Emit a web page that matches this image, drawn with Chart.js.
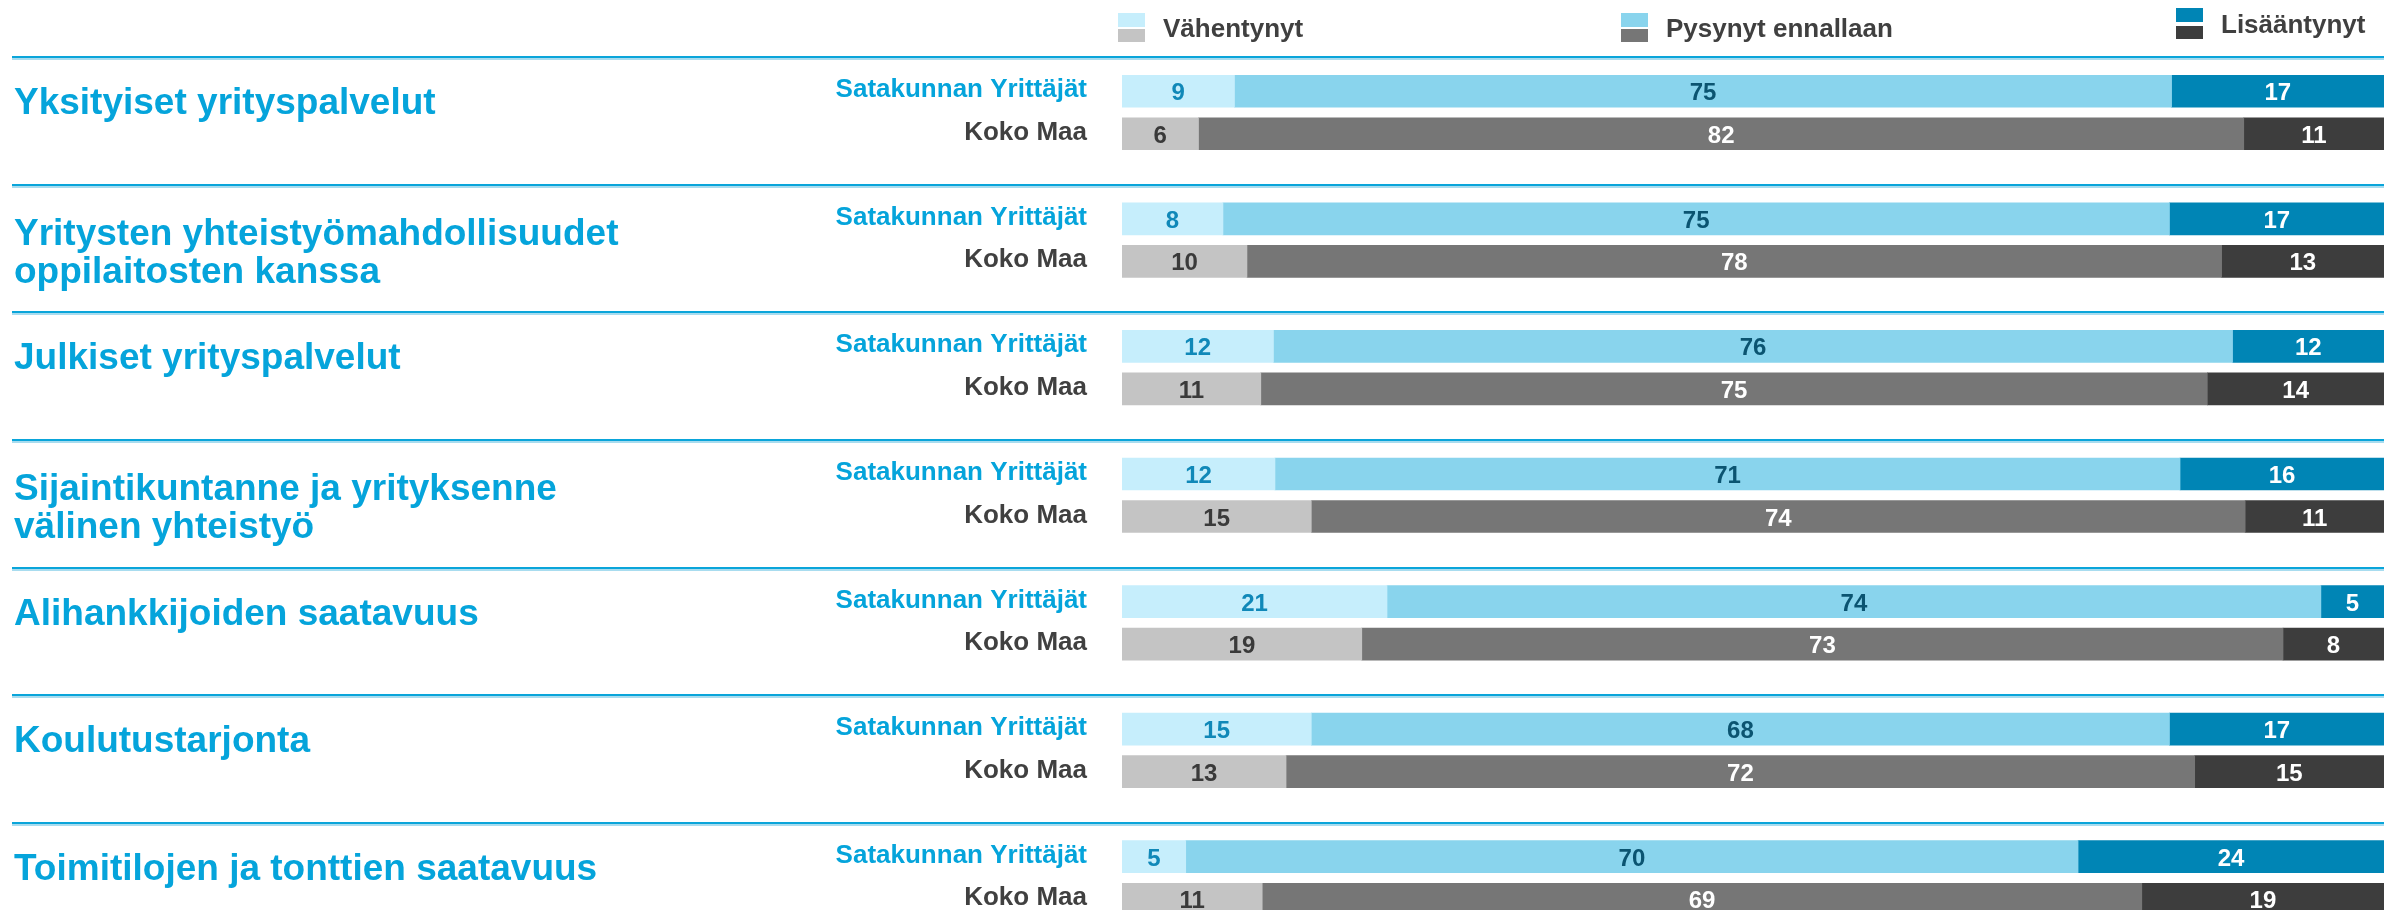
<!DOCTYPE html>
<html>
<head>
<meta charset="utf-8">
<script src="https://cdn.jsdelivr.net/npm/chart.js@4/dist/chart.umd.min.js"></script>
<style>
  html, body { margin: 0; padding: 0; background: #fff; overflow: hidden; }
  #wrap { width: 2397px; height: 910px; overflow: hidden; }
</style>
</head>
<body>
<div id="wrap"><canvas id="chart" width="2397" height="963"></canvas></div>
<script>
// aiheet (kaksi riviä = \n)
const categories = [
  "Yksityiset yrityspalvelut",
  "Yritysten yhteistyömahdollisuudet\noppilaitosten kanssa",
  "Julkiset yrityspalvelut",
  "Sijaintikuntanne ja yrityksenne\nvälinen yhteistyö",
  "Alihankkijoiden saatavuus",
  "Koulutustarjonta",
  "Toimitilojen ja tonttien saatavuus"
];
const groups = ["Satakunnan Yrittäjät", "Koko Maa"];
const seriesNames = ["Vähentynyt", "Pysynyt ennallaan", "Lisääntynyt"];

const satDecreased = [9, 8, 12, 12, 21, 15, 5];
const satSame      = [75, 75, 76, 71, 74, 68, 70];
const satIncreased = [17, 17, 12, 16, 5, 17, 24];
const maaDecreased = [6, 10, 11, 15, 19, 13, 11];
const maaSame      = [82, 78, 75, 74, 73, 72, 69];
const maaIncreased = [11, 13, 14, 11, 8, 15, 19];

const FONT = '"Liberation Sans", Arial, sans-serif';
const BLUE = "#05a4db";
const satColors = ["#c6eefc", "#89d4ed", "#0085b5"];
const maaColors = ["#c4c4c4", "#767676", "#3d3d3d"];
const satText = ["#1088b8", "#0b5471", "#ffffff"];
const maaText = ["#3a3a3a", "#ffffff", "#ffffff"];

const sat = [satDecreased, satSame, satIncreased];
const maa = [maaDecreased, maaSame, maaIncreased];

// 3 paikkaa per aihe: Satakunta, Koko maa, väli
const labels = [];
categories.forEach(() => { labels.push(groups[0], groups[1], ""); });

const raw = seriesNames.map((_, s) => {
  const out = [];
  categories.forEach((c, i) => { out.push(sat[s][i], maa[s][i], null); });
  return out;
});
const rowSum = (src, i) => src.reduce((a, arr) => a + arr[i], 0);
const datasets = seriesNames.map((name, s) => ({
  label: name,
  data: raw[s].map((v, k) => {
    if (v === null) return null;
    const i = Math.floor(k / 3);
    const total = k % 3 === 0 ? rowSum(sat, i) : rowSum(maa, i);
    return v / total * 100;
  }),
  backgroundColor: (ctx) => (ctx.dataIndex % 3 === 0 ? satColors : maaColors)[s],
  borderWidth: 0,
  barThickness: 32
}));

const decor = {
  id: "decor",
  beforeDatasetsDraw(chart) {
    const { ctx, scales: { y } } = chart;
    ctx.save();
    categories.forEach((cat, i) => {
      const c = Math.round(y.getPixelForValue(i * 3));
      const top = c - 35;
      ctx.fillStyle = "#0aa5da";
      ctx.fillRect(12, top, 2372, 2);
      ctx.fillStyle = "#a8dcef";
      ctx.fillRect(12, top + 2, 2372, 2);
      // otsikko
      const lines = cat.split("\n");
      ctx.fillStyle = BLUE;
      ctx.font = `bold 37px ${FONT}`;
      ctx.textAlign = "left";
      ctx.textBaseline = "alphabetic";
      const off = lines.length > 1 ? 26 : 23;
      lines.forEach((ln, j) => ctx.fillText(ln, 14, c + off + j * 38));
      // rivien nimet
      ctx.font = `bold 26px ${FONT}`;
      ctx.textAlign = "right";
      ctx.fillStyle = BLUE;
      ctx.fillText(groups[0], 1087, c + 6);
      ctx.fillStyle = "#404040";
      ctx.fillText(groups[1], 1087, Math.round(y.getPixelForValue(i * 3 + 1)) + 6);
    });
    // selite
    const leg = [
      { sq: 1118, tx: 1163, t1: 13, t2: 29, base: 37 },
      { sq: 1621, tx: 1666, t1: 13, t2: 29, base: 37 },
      { sq: 2176, tx: 2221, t1: 8, t2: 26, base: 33 }
    ];
    ctx.font = `bold 26px ${FONT}`;
    ctx.textAlign = "left";
    leg.forEach((p, s) => {
      ctx.fillStyle = satColors[s];
      ctx.fillRect(p.sq, p.t1, 27, 14);
      ctx.fillStyle = maaColors[s];
      ctx.fillRect(p.sq, p.t2, 27, 13);
      ctx.fillStyle = "#404040";
      ctx.fillText(seriesNames[s], p.tx, p.base);
    });
    ctx.restore();
  },
  afterDatasetsDraw(chart) {
    const { ctx } = chart;
    ctx.save();
    ctx.font = `bold 24px ${FONT}`;
    ctx.textAlign = "center";
    ctx.textBaseline = "alphabetic";
    chart.data.datasets.forEach((ds, s) => {
      chart.getDatasetMeta(s).data.forEach((el, k) => {
        const v = raw[s][k];
        if (v === null) return;
        ctx.fillStyle = (k % 3 === 0 ? satText : maaText)[s];
        ctx.fillText(String(v), (el.x + el.base) / 2, el.y + 9);
      });
    });
    ctx.restore();
  }
};

new Chart(document.getElementById("chart"), {
  type: "bar",
  data: { labels, datasets },
  options: {
    indexAxis: "y",
    responsive: false,
    animation: false,
    layout: { padding: { left: 1122, right: 13, top: 70, bottom: 0 } },
    plugins: { legend: { display: false }, tooltip: { enabled: false } },
    scales: {
      x: { stacked: true, min: 0, max: 100, display: false },
      y: { stacked: true, display: false, grid: { display: false } }
    }
  },
  plugins: [decor]
});
</script>
</body>
</html>
